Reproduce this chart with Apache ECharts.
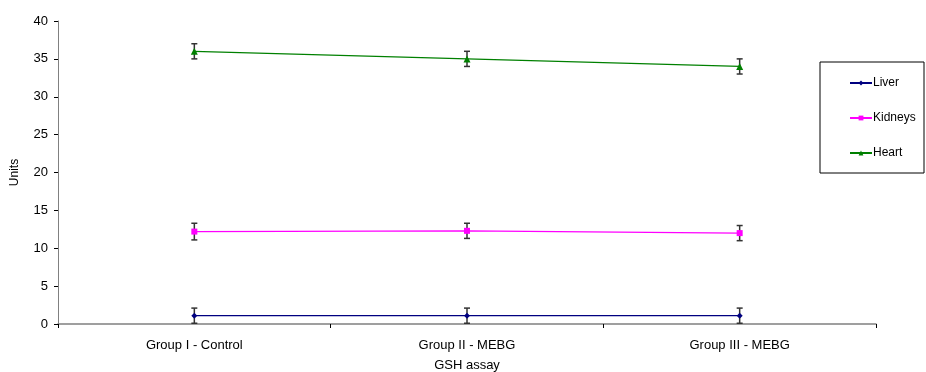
<!DOCTYPE html>
<html>
<head>
<meta charset="utf-8">
<script src="https://cdn.jsdelivr.net/npm/echarts@6/dist/echarts.min.js"></script>
<style>
  html, body { margin: 0; padding: 0; background: #fff; }
  #chart { width: 926px; height: 372px; }
</style>
</head>
<body>
<div id="chart"></div>
<script>
var categories = ['Group I - Control', 'Group II - MEBG', 'Group III - MEBG'];
var liver = [1.1, 1.1, 1.1];
var liverErr = [1.0, 1.0, 1.0];
var kidneys = [12.2, 12.3, 12.0];
var kidneysErr = [1.1, 1.0, 1.0];
var heart = [36.0, 35.0, 34.0];
var heartErr = [1.0, 1.0, 1.0];
var yTicks = [0, 5, 10, 15, 20, 25, 30, 35, 40];

var font = 'Liberation Sans, Arial, sans-serif';

function errData(vals, errs) {
  return vals.map(function (v, i) { return [i, v - errs[i], v + errs[i]]; });
}

// vertical error bar with small caps
function errSeries(vals, errs) {
  return {
    type: 'custom',
    z: 1,
    silent: true,
    renderItem: function (params, api) {
      var lo = api.coord([api.value(0), api.value(1)]);
      var hi = api.coord([api.value(0), api.value(2)]);
      var w = 3;
      var st = { stroke: '#333', lineWidth: 1.5 };
      return {
        type: 'group',
        children: [
          { type: 'line', shape: { x1: lo[0], y1: lo[1], x2: hi[0], y2: hi[1] }, style: st },
          { type: 'line', shape: { x1: lo[0] - w, y1: lo[1], x2: lo[0] + w, y2: lo[1] }, style: st },
          { type: 'line', shape: { x1: hi[0] - w, y1: hi[1], x2: hi[0] + w, y2: hi[1] }, style: st }
        ]
      };
    },
    data: errData(vals, errs)
  };
}

function lineSeries(name, vals, color, symbol, size) {
  return {
    name: name,
    type: 'line',
    z: 3,
    data: vals,
    symbol: symbol,
    symbolSize: size,
    itemStyle: { color: color },
    lineStyle: { color: color, width: 1.2 }
  };
}

var chart = echarts.init(document.getElementById('chart'));
chart.setOption({
  backgroundColor: '#fff',
  animation: false,
  grid: { left: 58, right: 50, top: 21, bottom: 48, outerBoundsMode: 'none', containLabel: false },
  xAxis: {
    type: 'category',
    data: categories,
    boundaryGap: true,
    name: 'GSH assay',
    nameLocation: 'middle',
    nameGap: 35,
    nameTextStyle: { fontFamily: font, fontSize: 13, color: '#000' },
    axisLine: { lineStyle: { color: '#808080', width: 1.5 } },
    axisTick: { show: true, length: 4, lineStyle: { color: '#000' } },
    axisLabel: { fontFamily: font, fontSize: 13, color: '#000', margin: 15 }
  },
  yAxis: {
    type: 'value',
    min: yTicks[0],
    max: yTicks[yTicks.length - 1],
    interval: 5,
    name: 'Units',
    nameLocation: 'middle',
    nameGap: 37,
    nameRotate: 90,
    nameTextStyle: { fontFamily: font, fontSize: 12, color: '#000' },
    splitLine: { show: false },
    axisLine: { show: true, lineStyle: { color: '#808080', width: 1 } },
    axisTick: { show: true, length: 4, lineStyle: { color: '#000' } },
    axisLabel: { fontFamily: font, fontSize: 13, color: '#000', margin: 10 }
  },
  legend: {
    orient: 'vertical',
    left: 844,
    top: 71,
    itemGap: 21,
    itemWidth: 22,
    itemHeight: 6,
    textStyle: { fontFamily: font, fontSize: 12, lineHeight: 14, color: '#000', padding: [0, 0, 0, -4] },
    data: ['Liver', 'Kidneys', 'Heart']
  },
  graphic: [{
    type: 'rect',
    shape: { x: 820, y: 62, width: 104, height: 111 },
    style: { fill: 'none', stroke: '#000', lineWidth: 1 },
    z: 0
  }],
  series: [
    errSeries(liver, liverErr),
    errSeries(kidneys, kidneysErr),
    errSeries(heart, heartErr),
    lineSeries('Liver', liver, '#000080', 'diamond', 6),
    lineSeries('Kidneys', kidneys, '#FF00FF', 'rect', 6),
    lineSeries('Heart', heart, '#008000', 'triangle', 7)
  ]
});
</script>
</body>
</html>
